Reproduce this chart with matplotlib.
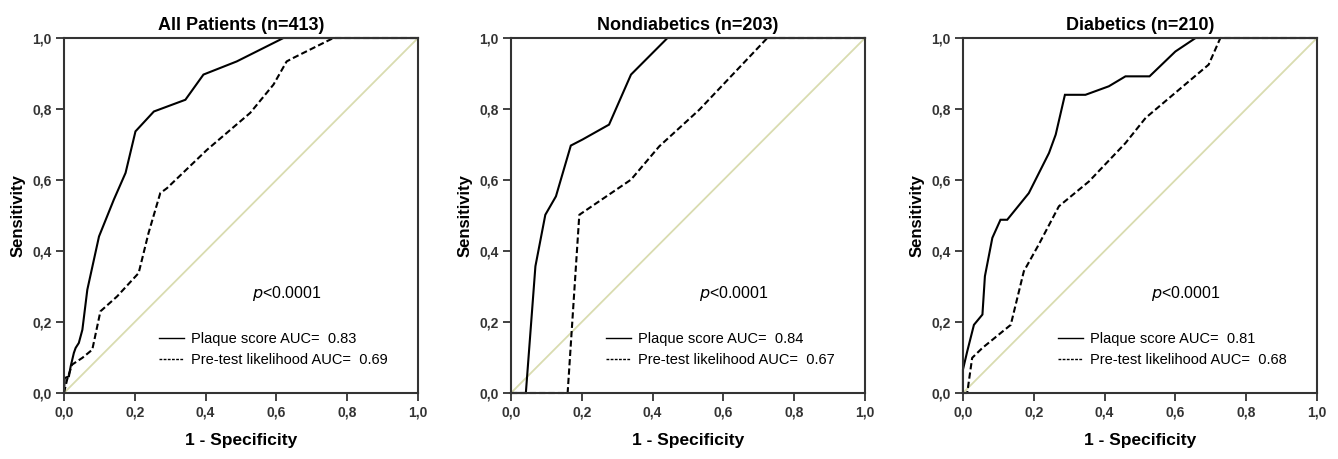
import matplotlib
matplotlib.use('Agg')
import matplotlib.pyplot as plt
from matplotlib.ticker import FuncFormatter

plt.rcParams['font.family'] = ['Liberation Sans', 'DejaVu Sans']

# ----------------------------------------------------------------------------#
# data (x = 1 - specificity, y = sensitivity)
titles = ['All Patients (n=413)', 'Nondiabetics (n=203)', 'Diabetics (n=210)']
auc_plaque = ['0.83', '0.84', '0.81']
auc_pretest = ['0.69', '0.67', '0.68']

all_plaque_x = [0, 0.002, 0.014, 0.019, 0.028, 0.033, 0.042, 0.052, 0.066, 0.099,
                0.141, 0.174, 0.202, 0.254, 0.343, 0.394, 0.488, 0.620, 1.0]
all_plaque_y = [0, 0.042, 0.047, 0.075, 0.113, 0.127, 0.141, 0.178, 0.291, 0.441,
                0.545, 0.620, 0.737, 0.793, 0.826, 0.897, 0.934, 1.0, 1.0]
all_pretest_x = [0, 0.009, 0.023, 0.052, 0.080, 0.103, 0.150, 0.211, 0.239, 0.272,
                 0.291, 0.404, 0.526, 0.592, 0.629, 0.648, 0.761, 1.0]
all_pretest_y = [0, 0.038, 0.080, 0.099, 0.122, 0.230, 0.272, 0.338, 0.451, 0.563,
                 0.577, 0.685, 0.789, 0.869, 0.934, 0.944, 1.0, 1.0]

nd_plaque_x = [0, 0.042, 0.069, 0.097, 0.127, 0.169, 0.202, 0.268, 0.277, 0.339,
               0.400, 0.442, 1.0]
nd_plaque_y = [0, 0, 0.357, 0.502, 0.554, 0.697, 0.714, 0.751, 0.756, 0.897,
               0.958, 1.0, 1.0]
nd_pretest_x = [0, 0.160, 0.193, 0.339, 0.419, 0.532, 0.724, 1.0]
nd_pretest_y = [0, 0, 0.502, 0.601, 0.695, 0.798, 1.0, 1.0]

d_plaque_x = [0, 0, 0.012, 0.031, 0.055, 0.062, 0.083, 0.106, 0.125, 0.186, 0.243,
              0.262, 0.288, 0.346, 0.412, 0.459, 0.527, 0.600, 0.657, 1.0]
d_plaque_y = [0, 0.066, 0.117, 0.192, 0.221, 0.329, 0.437, 0.488, 0.488, 0.563, 0.676,
              0.728, 0.840, 0.840, 0.864, 0.892, 0.892, 0.962, 1.0, 1.0]
d_pretest_x = [0, 0.012, 0.026, 0.055, 0.135, 0.172, 0.214, 0.271, 0.356, 0.459,
               0.516, 0.694, 0.727, 1.0]
d_pretest_y = [0, 0, 0.099, 0.127, 0.192, 0.343, 0.418, 0.526, 0.596, 0.704,
               0.775, 0.925, 1.0, 1.0]

plaque = [(all_plaque_x, all_plaque_y), (nd_plaque_x, nd_plaque_y), (d_plaque_x, d_plaque_y)]
pretest = [(all_pretest_x, all_pretest_y), (nd_pretest_x, nd_pretest_y), (d_pretest_x, d_pretest_y)]

ticks = [0, 0.2, 0.4, 0.6, 0.8, 1.0]

# ----------------------------------------------------------------------------#
fig = plt.figure(figsize=(13.38, 4.59), dpi=100)
lefts = [0.0478, 0.3819, 0.7197]
comma = FuncFormatter(lambda v, p: ('%.1f' % v).replace('.', ','))

for i in range(3):
    ax = fig.add_axes([lefts[i], 0.1438, 0.2646, 0.7734])
    ax.plot([0, 1], [0, 1], color='#d9dcb0', lw=1.3, zorder=1)
    ax.plot(*plaque[i], color='black', lw=1.5, solid_joinstyle='miter', clip_on=False,
            label='Plaque score AUC=  ' + auc_plaque[i])
    ax.plot(*pretest[i], color='black', lw=1.5, linestyle=(0, (3, 1.5)), clip_on=False,
            label='Pre-test likelihood AUC=  ' + auc_pretest[i])

    ax.set_xlim(0, 1)
    ax.set_ylim(0, 1)
    ax.set_xticks(ticks)
    ax.set_yticks(ticks)
    ax.xaxis.set_major_formatter(comma)
    ax.yaxis.set_major_formatter(comma)
    ax.tick_params(direction='out', length=6, width=1.3, color='#333333',
                   labelsize=10, pad=3)
    for lab in ax.get_xticklabels() + ax.get_yticklabels():
        lab.set_fontweight('bold')
        lab.set_color('#333333')
    for s in ax.spines.values():
        s.set_linewidth(1.5)
        s.set_color('#333333')

    ax.set_title(titles[i], fontsize=13, fontweight='bold', pad=6)
    ax.set_xlabel('1 - Specificity', fontsize=12.5, fontweight='bold', labelpad=10)
    ax.set_ylabel('Sensitivity', fontsize=12, fontweight='bold', labelpad=5)

    ax.text(0.63, 0.28, r'$\it{p}$<0.0001', fontsize=11.5, ha='center', va='center')
    leg = ax.legend(loc='lower left', bbox_to_anchor=(0.23, 0.035), frameon=False,
                    fontsize=10.5, handlelength=1.75, handletextpad=0.5,
                    labelspacing=0.5)
    for h in leg.get_lines():
        h.set_linewidth(1.0)
    leg.get_lines()[1].set_linestyle((0, (2, 1)))

fig.savefig('out.png', dpi=100)
